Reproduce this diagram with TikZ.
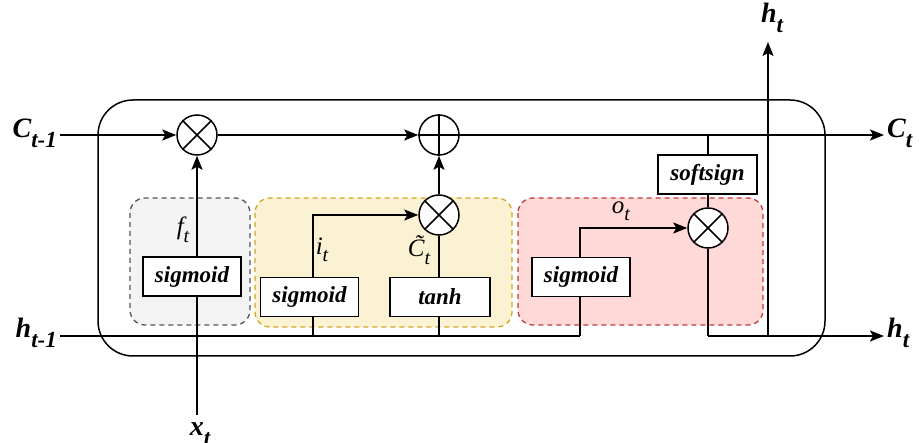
\documentclass[tikz,border=0pt]{standalone}
\usepackage{fontspec}
\setmainfont{Liberation Serif}
\usetikzlibrary{arrows.meta,calc}

% bold italic variable with a lowered subscript
\newcommand{\varlbl}[2]{{\fontsize{28}{32}\selectfont\bfseries\itshape #1\raisebox{-0.36em}{\fontsize{23}{24}\selectfont #2}}}
% light italic gate signal with a lowered subscript
\newcommand{\siglbl}[2]{{\fontsize{25}{28}\selectfont\itshape #1\raisebox{-0.3em}{\fontsize{20}{22}\selectfont #2}}}

\definecolor{gatefill}{HTML}{F3F3F3}
\definecolor{gateline}{HTML}{555555}
\definecolor{inputfill}{HTML}{FBF2D4}
\definecolor{inputline}{HTML}{D6A51E}
\definecolor{outfill}{HTML}{FFD8D8}
\definecolor{outline}{HTML}{C33B3B}

\tikzset{
  wire/.style={line width=1.5pt, black},
  arr/.style={wire, -{Stealth[length=14pt,width=11pt,inset=3pt]}},
  op/.style={circle, draw, line width=1.5pt, fill=white, minimum size=40pt, inner sep=0pt},
  actbox/.style={draw, line width=1.5pt, fill=white, minimum width=98pt, minimum height=39pt,
    inner sep=0pt, font=\fontsize{23}{26}\selectfont\bfseries\itshape},
  region/.style={rounded corners=15pt, dashed, line width=1.3pt, dash pattern=on 5pt off 4pt},
  mlbl/.style={inner sep=0pt},
}

\begin{document}
\begin{tikzpicture}[x=1pt,y=-1pt]
\useasboundingbox (0,0) rectangle (921,443);

% gate regions
\draw[region, fill=gatefill, draw=gateline] (130,198) rectangle (250,325);
\draw[region, fill=inputfill, draw=inputline] (255,198) rectangle (512,327);
\draw[region, fill=outfill, draw=outline] (518,198) rectangle (763,325);

% cell frame
\draw[wire, rounded corners=35pt] (98,100) rectangle (825,356);

% external ends
\coordinate (cstart) at (60,135);
\coordinate (cend) at (884,135);
\coordinate (hstart) at (60,336);
\coordinate (hend) at (884,336);
\coordinate (xin) at (197,415);
\coordinate (htop) at (768,42);
\coordinate (hsplit) at (768,336);
\coordinate (hmerge) at (708,336);
\coordinate (hjoin) at (580,336);

% operators
\node[op] (m1) at (197,135) {};
\node[op] (add) at (439,135) {};
\node[op] (m2) at (439,215) {};
\node[op] (m3) at (708,228) {};
\draw[wire] (m1.north west) -- (m1.south east) (m1.north east) -- (m1.south west);
\draw[wire] (m2.north west) -- (m2.south east) (m2.north east) -- (m2.south west);
\draw[wire] (m3.north west) -- (m3.south east) (m3.north east) -- (m3.south west);
\draw[wire] (add.north) -- (add.south) (add.west) -- (add.east);

% activation boxes
\node[actbox] (sg1) at (192,276.5) {sigmoid};
\node[actbox] (sg2) at (309.5,297) {sigmoid};
\node[actbox, minimum width=100pt] (th) at (440,297) {tanh};
\node[actbox] (sg3) at (581,277) {sigmoid};
\node[actbox, minimum width=99pt] (ss) at (707.5,174.5) {softsign};

% cell state path
\draw[arr] (cstart) -- (m1.west);
\draw[arr] (m1.east) -- (add.west);
\draw[arr] (add.east) -- (cend);
\draw[arr] (m2.north) -- (add.south);

% hidden state input path
\draw[wire] (hstart) -- (hjoin);
\draw[wire] (xin) -- (xin |- sg1.south);
\draw[arr] (sg1.north -| m1) -- (m1.south);

% input gate
\draw[wire] (sg2.south -| 313,0) -- (313,336);
\draw[wire] (th.south -| m2) -- (m2 |- hstart);
\draw[arr] (sg2.north -| 313,0) |- (m2.west);
\draw[wire] (th.north -| m2) -- (m2.south);

% output gate
\draw[wire] (sg3.south -| hjoin) -- (hjoin);
\draw[arr] (sg3.north -| hjoin) |- (m3.west);
\draw[wire] (m3.north) -- (ss.south -| m3);
\draw[wire] (ss.north -| m3) -- (m3 |- cstart);
\draw[wire] (m3.south) -- (hmerge);
\draw[arr] (hmerge) -- (hend);
\draw[arr] (hsplit) -- (htop);

% labels
\node[anchor=east, inner sep=0pt] (lcin) at (57,133) {\varlbl{C}{t-1}};
\node[anchor=west, inner sep=0pt] (lcout) at (887,133) {\varlbl{C}{t}};
\node[anchor=east, inner sep=0pt] (lhin) at (57,333) {\varlbl{h}{t-1}};
\node[anchor=west, inner sep=0pt] (lhout) at (887,333) {\varlbl{h}{t}};
\node[inner sep=0pt] (lhtop) at (772,18) {\varlbl{h}{t}};
\node[inner sep=0pt] (lxin) at (200,434) {\varlbl{x}{t}};

\node[mlbl] (lf) at (183,230) {\siglbl{f}{t}};
\node[mlbl] (li) at (322,250) {\siglbl{i}{t}};
\node[mlbl] (lc) at (419,250) {\siglbl{\~{C}}{t}};
\node[mlbl] (lo) at (621,211) {\siglbl{o}{t}};
\end{tikzpicture}
\end{document}
